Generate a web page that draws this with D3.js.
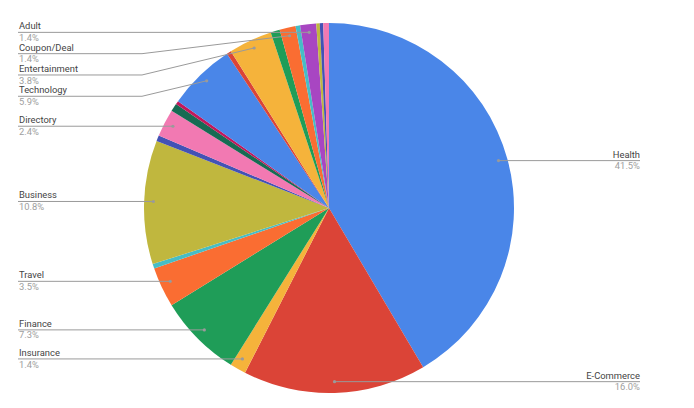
<!DOCTYPE html>
<html>
<head>
<meta charset="utf-8">
<script src="https://cdn.jsdelivr.net/npm/d3@7/dist/d3.min.js"></script>
<style>
  html, body { margin: 0; padding: 0; background: #fff; }
  svg { display: block; font-family: Roboto, "Noto Sans", Arial, sans-serif; }
</style>
</head>
<body>
<svg id="chart" width="694" height="408"></svg>
<script>
// ---- data (clockwise from 12 o'clock) ----
const categories = [
  "Health", "E-Commerce", "Insurance", "Finance", "Travel", "(unlabelled 1)",
  "Business", "(unlabelled 2)", "Directory", "(unlabelled 3)", "(unlabelled 4)",
  "Technology", "(unlabelled 5)", "Entertainment", "(unlabelled 6)", "Coupon/Deal",
  "(unlabelled 7)", "Adult", "(unlabelled 8)", "(unlabelled 9)", "(unlabelled 10)"
];
const values = [
  41.5, 16.0, 1.4, 7.3, 3.5, 0.4,
  10.8, 0.5, 2.4, 0.7, 0.3,
  5.9, 0.4, 3.8, 0.8, 1.4,
  0.4, 1.4, 0.3, 0.3, 0.5
];
const palette = [
  "#4A86E8", "#DB4437", "#F5B33B", "#1F9D58", "#FA6D32", "#46BDC6",
  "#C0B73E", "#4352B5", "#F279B2", "#176B53", "#C2185B",
  "#4A86E8", "#DB4437", "#F5B33B", "#1F9D58", "#FA6D32",
  "#46BDC6", "#A846C2", "#C0B73E", "#4352B5", "#F279B2"
];
const labelThreshold = 1.0;

// ---- layout ----
const W = 694, H = 408;
const cx = 329, cy = 208, r = 185;
const svg = d3.select("#chart");
const total = d3.sum(values);
const fmt = d3.format(".1%");

const data = categories.map((c, i) => ({ name: c, value: values[i], color: palette[i] }));
const pie = d3.pie().sort(null).value(d => d.value).startAngle(0).endAngle(2 * Math.PI);
const arcs = pie(data);
const arc = d3.arc().innerRadius(0).outerRadius(r);

const g = svg.append("g").attr("transform", `translate(${cx},${cy})`);
g.selectAll("path.slice").data(arcs).join("path")
  .attr("class", "slice")
  .attr("d", arc)
  .attr("fill", d => d.data.color);

// ---- labels ----
const anchorR = r * 0.95;
const labels = arcs.filter(a => a.data.value >= labelThreshold).map(a => {
  const m = (a.startAngle + a.endAngle) / 2;
  return {
    name: a.data.name,
    pct: fmt(a.data.value / total),
    ax: cx + anchorR * Math.sin(m),
    ay: cy - anchorR * Math.cos(m) + (Math.cos(m) > 0 ? -1 : -2),
    left: Math.sin(m) < 0
  };
});

const gap = 21.3;
function stack(list) {
  list.sort((a, b) => a.ay - b.ay);
  let prev = -Infinity;
  list.forEach(l => { l.ly = Math.max(l.ay, prev + gap); prev = l.ly; });
}
const leftL = labels.filter(l => l.left);
const rightL = labels.filter(l => !l.left);
stack(leftL); stack(rightL);

const leftX = 18, rightX = 640;
const fs = 9.4;
const lg = svg.append("g");

leftL.forEach(l => {
  const ex = Math.min(cx - r - 2, l.ax);
  const path = Math.abs(l.ly - l.ay) < 0.5
    ? `M${leftX},${l.ly}L${l.ax},${l.ay}`
    : `M${leftX},${l.ly}L${ex},${l.ly}L${l.ax},${l.ay}`;
  lg.append("path").attr("d", path).attr("fill", "none")
    .attr("stroke", "#9a9a9a").attr("stroke-width", 1);
  lg.append("circle").attr("cx", l.ax).attr("cy", l.ay).attr("r", 1.6).attr("fill", "#9a9a9a");
  lg.append("text").attr("x", leftX + 1).attr("y", l.ly - 3)
    .attr("font-size", fs).attr("fill", "#444").text(l.name);
  lg.append("text").attr("x", leftX + 1).attr("y", l.ly + 8.6)
    .attr("font-size", fs).attr("fill", "#9e9e9e").text(l.pct);
});

rightL.forEach(l => {
  const ex = Math.max(cx + r + 2, l.ax);
  const path = Math.abs(l.ly - l.ay) < 0.5
    ? `M${l.ax},${l.ay}L${rightX},${l.ly}`
    : `M${l.ax},${l.ay}L${ex},${l.ly}L${rightX},${l.ly}`;
  lg.append("path").attr("d", path).attr("fill", "none")
    .attr("stroke", "#9a9a9a").attr("stroke-width", 1);
  lg.append("circle").attr("cx", l.ax).attr("cy", l.ay).attr("r", 1.6).attr("fill", "#9a9a9a");
  lg.append("text").attr("x", rightX).attr("y", l.ly - 3).attr("text-anchor", "end")
    .attr("font-size", fs).attr("fill", "#444").text(l.name);
  lg.append("text").attr("x", rightX).attr("y", l.ly + 8.6).attr("text-anchor", "end")
    .attr("font-size", fs).attr("fill", "#9e9e9e").text(l.pct);
});
</script>
</body>
</html>
